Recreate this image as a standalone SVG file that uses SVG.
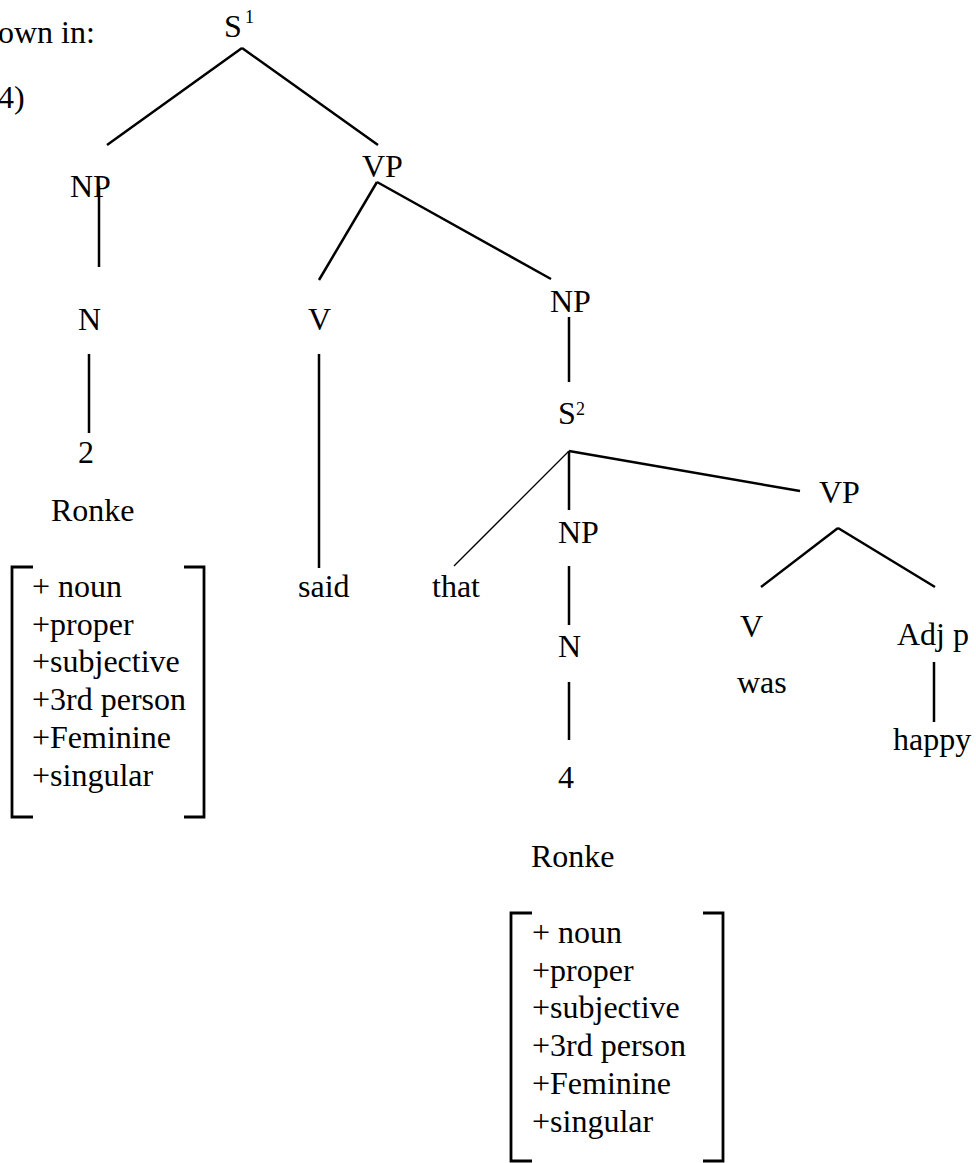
<svg xmlns="http://www.w3.org/2000/svg" width="976" height="1163" viewBox="0 0 976 1163">
  <style>
    text { font-family: "Liberation Serif", "Times New Roman", serif; font-size: 32px; fill: #000; }
    text.sup { font-size: 18px; }
    .edge { stroke: #000; stroke-width: 2.5; fill: none; stroke-linecap: butt; }
    .edge.thin { stroke-width: 1.3; }
    .bracket { stroke: #000; stroke-width: 2.8; fill: none; stroke-linejoin: miter; }
  </style>
  <rect width="976" height="1163" fill="#fff"/>

  <!-- running text at the page edge -->
  <g id="caption">
    <text x="-2" y="43">own in:</text>
    <text x="-2" y="108">4)</text>
  </g>

  <!-- tree branches -->
  <g id="connectors">
    <line class="edge" x1="242" y1="48" x2="107" y2="145"/>
    <line class="edge" x1="242" y1="48" x2="378" y2="145"/>
    <line class="edge" x1="99" y1="186" x2="99" y2="267"/>
    <line class="edge" x1="89" y1="354" x2="89" y2="433"/>
    <line class="edge" x1="377" y1="182" x2="319" y2="280"/>
    <line class="edge" x1="377" y1="182" x2="551" y2="279"/>
    <line class="edge" x1="319" y1="354" x2="319" y2="568"/>
    <line class="edge" x1="569" y1="317" x2="569" y2="382"/>
    <line class="edge thin" x1="569" y1="451" x2="454" y2="566"/>
    <line class="edge" x1="569" y1="451" x2="569" y2="510"/>
    <line class="edge" x1="569" y1="451" x2="800" y2="491"/>
    <line class="edge" x1="569" y1="566" x2="569" y2="625"/>
    <line class="edge" x1="569" y1="682" x2="569" y2="740"/>
    <line class="edge" x1="838" y1="528" x2="761" y2="587"/>
    <line class="edge" x1="838" y1="528" x2="935" y2="587"/>
    <line class="edge" x1="934" y1="662" x2="934" y2="722"/>
  </g>

  <g id="s1"><text x="224" y="37">S</text><text class="sup" x="245" y="23">1</text></g>
  <g id="np1"><text x="70" y="197">NP</text></g>
  <g id="vp1"><text x="362" y="177">VP</text></g>
  <g id="n1"><text x="78" y="330">N</text></g>
  <g id="num2"><text x="78" y="463">2</text></g>
  <g id="ronke1"><text x="51" y="521">Ronke</text></g>
  <g id="v1"><text x="308" y="330">V</text></g>
  <g id="said"><text x="298" y="597">said</text></g>
  <g id="np2"><text x="550" y="312">NP</text></g>
  <g id="s2"><text x="558" y="424">S</text><text class="sup" x="576" y="415">2</text></g>
  <g id="that"><text x="432" y="597">that</text></g>
  <g id="np3"><text x="558" y="543">NP</text></g>
  <g id="n2"><text x="558" y="657">N</text></g>
  <g id="num4"><text x="558" y="788">4</text></g>
  <g id="ronke2"><text x="531" y="867">Ronke</text></g>
  <g id="vp2"><text x="819" y="503">VP</text></g>
  <g id="v2"><text x="740" y="637">V</text></g>
  <g id="was"><text x="737" y="693">was</text></g>
  <g id="adjp"><text x="897" y="645">Adj p</text></g>
  <g id="happy"><text x="893" y="750">happy</text></g>

  <!-- feature matrix for Ronke (matrix clause) -->
  <g id="features1">
    <path class="bracket" d="M33,567 H12 V817 H33"/>
    <path class="bracket" d="M184,567 H204 V817 H184"/>
    <text x="32" y="597">+ noun</text>
    <text x="32" y="634.7">+proper</text>
    <text x="32" y="672.4">+subjective</text>
    <text x="32" y="710">+3rd person</text>
    <text x="32" y="747.8">+Feminine</text>
    <text x="32" y="785.5">+singular</text>
  </g>

  <!-- feature matrix for Ronke (embedded clause) -->
  <g id="features2">
    <path class="bracket" d="M532,913 H511 V1161 H532"/>
    <path class="bracket" d="M703,913 H723 V1161 H703"/>
    <text x="532" y="943">+ noun</text>
    <text x="532" y="980.7">+proper</text>
    <text x="532" y="1018.4">+subjective</text>
    <text x="532" y="1056">+3rd person</text>
    <text x="532" y="1093.8">+Feminine</text>
    <text x="532" y="1131.5">+singular</text>
  </g>
</svg>
